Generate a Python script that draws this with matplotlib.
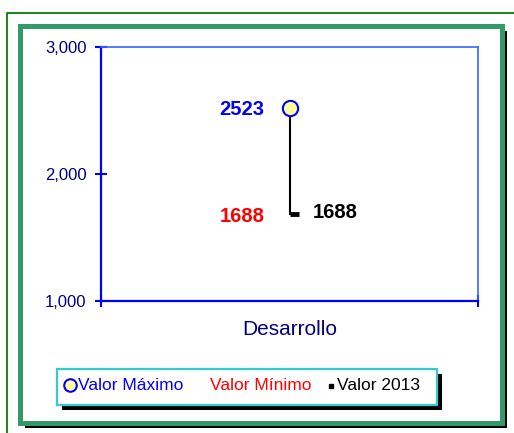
import matplotlib
matplotlib.use('Agg')
import matplotlib.pyplot as plt
from matplotlib.patches import Rectangle
from matplotlib.lines import Line2D

plt.rcParams['font.family'] = ['Liberation Sans', 'DejaVu Sans']

# data
categories = ['Desarrollo']
valor_maximo = [2523]
valor_minimo = [1688]
valor_2013 = [1688]
y_ticks = [1000, 2000, 3000]
legend_labels = ['Valor Máximo', 'Valor Mínimo', 'Valor 2013']

W, H = 514, 433
fig = plt.figure(figsize=(W / 100, H / 100), dpi=100)


def fx(x):
    return x / W


def fy(y):
    return 1 - y / H


def box(x0, y0, x1, y1, edge, lw, shadow=5, z=-2):
    # black shadow first, then white box on top
    fig.add_artist(Rectangle((fx(x0 + shadow), fy(y1 + shadow)), fx(x1 - x0), (y1 - y0) / H,
                             transform=fig.transFigure, facecolor='black', edgecolor='black',
                             lw=0, zorder=z))
    fig.add_artist(Rectangle((fx(x0), fy(y1)), fx(x1 - x0), (y1 - y0) / H,
                             transform=fig.transFigure, facecolor='white', edgecolor=edge,
                             lw=lw, zorder=z + 0.5))


# outer thin green line
fig.add_artist(Line2D([fx(7), fx(7), fx(520)], [fy(440), fy(13), fy(13)],
                      transform=fig.transFigure, color='#008000', lw=1.3, zorder=-3))
# thick green frame with shadow
box(19.5, 25.5, 501.5, 422.5, '#339966', 3.6, z=-2)

ax = fig.add_axes([fx(101), fy(301), fx(478 - 101), (301 - 47) / H])
ax.set_zorder(1)
x = range(len(categories))

# high-low line
for i in x:
    ax.plot([i, i], [valor_minimo[i], valor_maximo[i]], color='black', lw=1.5, zorder=2)
ax.plot(x, valor_2013, linestyle='none', marker=1, markersize=6.5, markeredgewidth=3.5,
        color='black', zorder=3)
ax.plot(x, valor_maximo, linestyle='none', marker='o', markersize=11, markerfacecolor='#FFFF99',
        markeredgecolor='#0000FF', markeredgewidth=1.5, zorder=4)

for i in x:
    ax.annotate(str(valor_maximo[i]), (i, valor_maximo[i]), xytext=(-18, -1.5), textcoords='offset points',
                ha='right', va='center', color='#0000FF', fontsize=14.5, fontweight='bold')
    ax.annotate(str(valor_minimo[i]), (i, valor_minimo[i]), xytext=(-18, -2), textcoords='offset points',
                ha='right', va='center', color='#FF0000', fontsize=14.5, fontweight='bold')
    ax.annotate(str(valor_2013[i]), (i, valor_2013[i]), xytext=(17, 0.5), textcoords='offset points',
                ha='left', va='center', color='black', fontsize=14.5, fontweight='bold')

ax.set_xlim(-0.5, len(categories) - 0.5)
ax.set_ylim(y_ticks[0], y_ticks[-1])
ax.set_yticks(y_ticks)
ax.set_yticklabels([f'{v:,}' for v in y_ticks], color='#000080', fontsize=12)
ax.set_xticks([-0.5, len(categories) - 0.5])
ax.set_xticklabels([])
ax.tick_params(axis='y', direction='inout', length=9, width=1.5, color='#0000FF', pad=6)
ax.tick_params(axis='x', direction='inout', length=9, width=1.5, color='#0000FF')
ax.set_xlabel(categories[0], color='#000080', fontsize=15, labelpad=6)

for s in ['left', 'bottom']:
    ax.spines[s].set_color('#0000FF')
    ax.spines[s].set_linewidth(1.6)
for s in ['top', 'right']:
    ax.spines[s].set_color('#3366FF')
    ax.spines[s].set_linewidth(1.2)

# legend box
box(57, 369, 437, 405, '#33CCCC', 1.6, z=-1)
fig.add_artist(Line2D([fx(69.5)], [fy(385)], transform=fig.transFigure, marker='o', markersize=9,
                      markerfacecolor='#FFFF99', markeredgecolor='#0000FF', markeredgewidth=1.5))
fig.text(fx(78), fy(385), legend_labels[0], color='#0000FF', fontsize=12.5, va='center', ha='left')
fig.text(fx(210), fy(385), legend_labels[1], color='#FF0000', fontsize=12.5, va='center', ha='left')
fig.add_artist(Line2D([fx(330.5)], [fy(385.5)], transform=fig.transFigure, marker='s', markersize=3.5,
                      color='black'))
fig.text(fx(337), fy(385), legend_labels[2], color='black', fontsize=12.5, va='center', ha='left')

fig.savefig('out.png', dpi=100)
